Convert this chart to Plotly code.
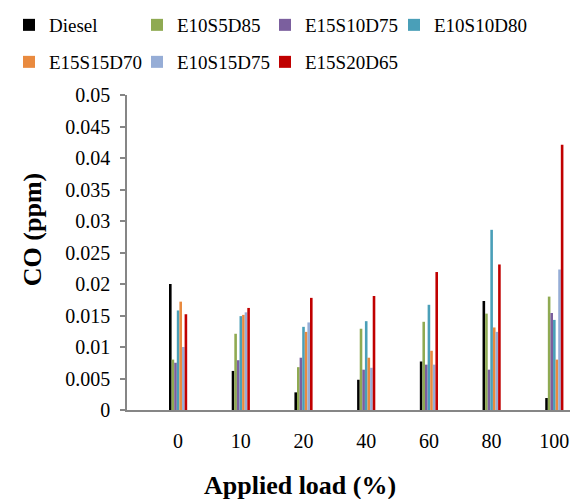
import plotly.graph_objects as go

loads = ["0", "10", "20", "40", "60", "80", "100"]
series_names = ["Diesel", "E10S5D85", "E15S10D75", "E10S10D80", "E15S15D70", "E10S15D75", "E15S20D65"]
diesel    = [0.0200, 0.0062, 0.0028, 0.0048, 0.0077, 0.0173, 0.0019]
e10s5d85  = [0.0080, 0.0121, 0.0068, 0.0129, 0.0140, 0.0153, 0.0180]
e15s10d75 = [0.0075, 0.0079, 0.0083, 0.0064, 0.0072, 0.0064, 0.0154]
e10s10d80 = [0.0158, 0.0149, 0.0132, 0.0141, 0.0167, 0.0286, 0.0143]
e15s15d70 = [0.0172, 0.0151, 0.0124, 0.0083, 0.0094, 0.0131, 0.0080]
e10s15d75 = [0.0100, 0.0155, 0.0139, 0.0067, 0.0072, 0.0124, 0.0223]
e15s20d65 = [0.0152, 0.0162, 0.0178, 0.0181, 0.0219, 0.0231, 0.0421]
colors = ["#000000", "#8FAA52", "#7B5F9E", "#4A9FB8", "#E98A3F", "#96ADD6", "#C00000"]
ytick_vals = [0, 0.005, 0.01, 0.015, 0.02, 0.025, 0.03, 0.035, 0.04, 0.045, 0.05]
ytick_text = ["0", "0.005", "0.01", "0.015", "0.02", "0.025", "0.03", "0.035", "0.04", "0.045", "0.05"]

all_series = [diesel, e10s5d85, e15s10d75, e10s10d80, e15s15d70, e10s15d75, e15s20d65]

FONT = "Times New Roman"
AXC = "#868686"
W, H = 587, 499

# legend entry layout: 4 columns, 2 rows (page pixels of each entry's left edge / row centre)
legend_cols = [9, 137, 265, 394]
legend_rows = [25, 62]

fig = go.Figure()
legend_layouts = {}
for i, (name, vals, col) in enumerate(zip(series_names, all_series, colors)):
    lid = "legend" if i == 0 else f"legend{i + 1}"
    fig.add_trace(go.Bar(x=loads, y=vals, name=name, legend=lid,
                         marker=dict(color=col, line=dict(width=0))))
    legend_layouts[lid] = dict(
        orientation="h", xref="container", yref="container",
        x=legend_cols[i % 4] / W, y=1 - legend_rows[i // 4] / H,
        xanchor="left", yanchor="middle",
        font=dict(family=FONT, size=19, color="black"),
        bgcolor="rgba(0,0,0,0)",
    )

fig.update_layout(
    width=W, height=H,
    margin=dict(l=127, r=17, t=95, b=89, autoexpand=False),
    paper_bgcolor="white", plot_bgcolor="white",
    barmode="group", bargap=0.71, bargroupgap=0,
    font=dict(family=FONT, size=20, color="black"),
    showlegend=True,
    xaxis=dict(
        type="category", range=[-0.815, 6.25],
        showline=True, linecolor=AXC, linewidth=1.5,
        ticks="outside", ticklen=12, tickcolor="rgba(0,0,0,0)",
        showgrid=False, zeroline=False,
        tickfont=dict(family=FONT, size=20, color="black"),
    ),
    xaxis2=dict(
        overlaying="x", anchor="y", side="bottom",
        range=[-0.13, 14], tick0=0, dtick=1,
        ticks="outside", ticklen=6, tickcolor=AXC, tickwidth=1.5,
        showticklabels=False, showgrid=False, zeroline=False, showline=False,
    ),
    yaxis=dict(
        range=[0, 0.05], tickvals=ytick_vals, ticktext=ytick_text,
        showline=True, linecolor=AXC, linewidth=1.5,
        ticks="outside", ticklen=5, tickcolor=AXC, tickwidth=1.5,
        showgrid=False, zeroline=False,
        tickfont=dict(family=FONT, size=20, color="black"),
        ticklabelstandoff=6,
    ),
    annotations=[
        dict(text="<b>CO (ppm)</b>", textangle=-90, xref="paper", yref="paper",
             x=-0.2144, y=0.571, xanchor="center", yanchor="middle", showarrow=False,
             font=dict(family=FONT, size=26, color="black")),
        dict(text="<b>Applied load (%)</b>", xref="paper", yref="paper",
             x=0.39, y=-0.24, xanchor="center", yanchor="middle", showarrow=False,
             font=dict(family=FONT, size=26, color="black")),
    ],
    **legend_layouts,
)

fig.write_html("out.html")
